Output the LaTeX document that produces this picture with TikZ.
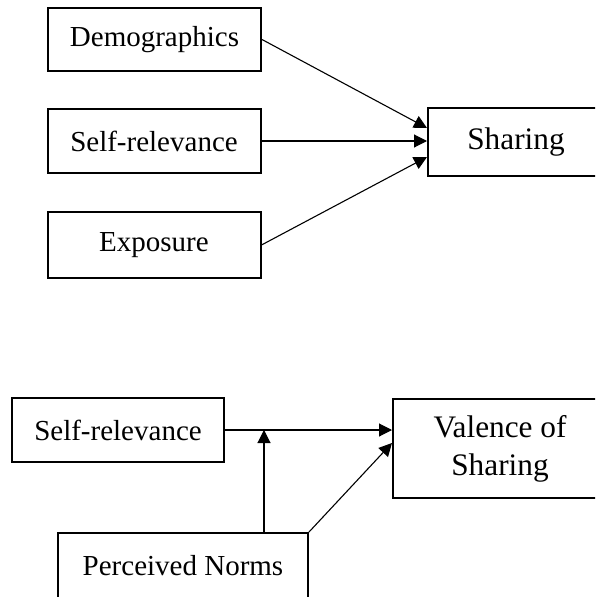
\documentclass[tikz,border=0pt]{standalone}
\usepackage{fontspec}
\setmainfont{Liberation Serif}
\usetikzlibrary{arrows.meta}
\begin{document}
\begin{tikzpicture}[x=1pt,y=-1pt,
  box/.style={draw, line width=2pt, inner sep=0pt, font=\fontsize{29}{34}\selectfont},
  bigbox/.style={box, font=\fontsize{31.3}{38}\selectfont, align=center},
  arr/.style={line width=1.1pt, -{Triangle[length=13pt,width=13pt]}}]
\clip (0,0) rectangle (595,597);
% top diagram
\node[box, minimum width=213pt, minimum height=63pt] (dem) at (154.5,39.5) {Demographics};
\node[box, minimum width=213pt, minimum height=64pt] (srt) at (154,141) {Self-relevance};
\node[box, minimum width=213pt, minimum height=66pt] (exp) at (154,245) {Exposure};
\node[bigbox, minimum width=176pt, minimum height=68pt] (sh) at (516,142) {Sharing};
\draw[arr] (dem.east) -- ([yshift=14pt]sh.west);
\draw[arr] (srt.east) -- (srt.east -| sh.west);
\draw[arr] (exp.east) -- ([yshift=-15pt]sh.west);
% bottom diagram
\node[box, minimum width=212pt, minimum height=64pt] (srb) at (118,430) {Self-relevance};
\node[bigbox, minimum width=214pt, minimum height=99pt] (val) at (500,448.5) {Valence of\\Sharing};
\node[box, minimum width=250pt, minimum height=65pt] (pn) at (183,565.5) {Perceived Norms};
\draw[arr] (srb.east) -- ([yshift=18.5pt]val.west);
\draw[arr] ([xshift=81pt]pn.north) -- ([xshift=81pt]pn.north |- srb.east);
\draw[arr] (pn.north east) -- ([yshift=5.5pt]val.west);
\end{tikzpicture}
\end{document}
